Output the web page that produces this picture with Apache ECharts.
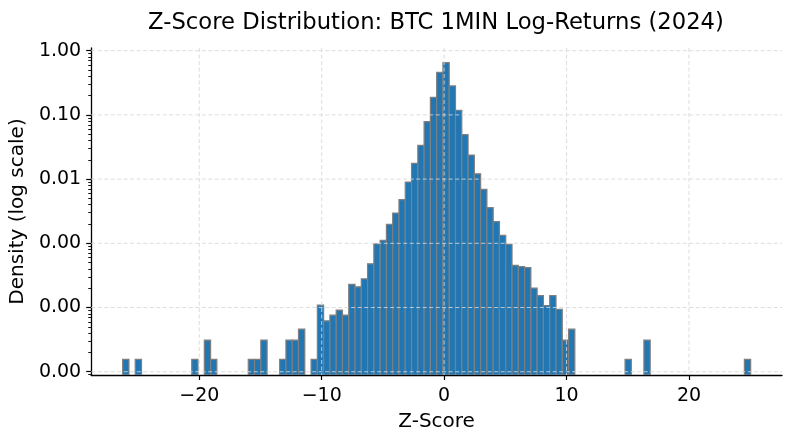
<!DOCTYPE html>
<html>
<head>
<meta charset="utf-8">
<script src="https://cdn.jsdelivr.net/npm/echarts@6/dist/echarts.min.js"></script>
<style>html,body{margin:0;padding:0;background:#fff;}#chart{width:793px;height:442px;}</style>
</head>
<body>
<div id="chart"></div>
<script>
// Histogram: 100 equal bins of Z-scores, density (log scale)
const binStart = -26.26;
const binWidth = 0.513;
const densities = [
  1.56e-5, 0, 1.56e-5, 0, 0, 0, 0, 0, 0, 0,
  0, 1.56e-5, 0, 3.1e-5, 1.56e-5, 0, 0, 0, 0, 0,
  1.56e-5, 1.56e-5, 3.1e-5, 0, 0, 1.56e-5, 3.1e-5, 3.1e-5, 4.6e-5, 0,
  1.56e-5, 1.09e-4, 6.2e-5, 7.6e-5, 9.1e-5, 7.6e-5, 2.3e-4, 2.1e-4, 2.8e-4, 4.8e-4,
  9.8e-4, 1.11e-3, 1.98e-3, 2.96e-3, 4.78e-3, 9.0e-3, 1.76e-2, 3.36e-2, 7.84e-2, 0.188,
  0.461, 0.650, 0.282, 0.118, 0.0492, 0.0237, 0.0121, 6.93e-3, 3.59e-3, 2.17e-3,
  1.33e-3, 9.64e-4, 4.54e-4, 4.32e-4, 4.17e-4, 2.01e-4, 1.53e-4, 1.07e-4, 1.53e-4, 9.4e-5,
  3.1e-5, 4.6e-5, 0, 0, 0, 0, 0, 0, 0, 0,
  1.56e-5, 0, 0, 3.1e-5, 0, 0, 0, 0, 0, 0,
  0, 0, 0, 0, 0, 0, 0, 0, 0, 1.56e-5
];
const xTicks = [-20, -10, 0, 10, 20];
const yTicks = [1, 0.1, 0.01, 0.001, 0.0001, 0.00001];
const yMinorMultipliers = [2, 3, 4, 5, 6, 7, 8, 9];
const yDecades = [-6, -5, -4, -3, -2, -1, 0];

const X_MIN = -28.83, X_MAX = 27.6, Y_MIN = 8.9e-6, Y_MAX = 1.1;
const FONT = 'DejaVu Sans';

const yMinorTicks = [];
yDecades.forEach(function (e) {
  yMinorMultipliers.forEach(function (m) {
    const v = m * Math.pow(10, e);
    if (v < Y_MAX && v > Y_MIN) yMinorTicks.push(v);
  });
});

const barData = [];
densities.forEach(function (d, i) {
  if (d > 0) barData.push([binStart + i * binWidth, binStart + (i + 1) * binWidth, d]);
});

const gridStyle = { stroke: 'rgba(215,215,215,0.85)', lineWidth: 1, lineDash: [4, 2.5] };

const chart = echarts.init(document.getElementById('chart'), null, { renderer: 'canvas' });

chart.setOption({
  animation: false,
  backgroundColor: '#ffffff',
  title: {
    text: 'Z-Score Distribution: BTC 1MIN Log-Returns (2024)',
    left: 431, top: 7, textAlign: 'center',
    textStyle: { fontFamily: FONT, fontSize: 22.7, fontWeight: 'normal', color: '#000' }
  },
  grid: { left: 91, right: 11, top: 48, bottom: 67, containLabel: false },
  xAxis: {
    type: 'value', min: X_MIN, max: X_MAX,
    name: 'Z-Score', nameLocation: 'middle', nameGap: 37,
    nameTextStyle: { fontFamily: FONT, fontSize: 20, color: '#000' },
    axisLine: { show: true, onZero: false, lineStyle: { color: '#000', width: 1.3 } },
    axisTick: { show: true, inside: false, length: 5, customValues: xTicks, lineStyle: { color: '#000', width: 1.2 } },
    axisLabel: { customValues: xTicks, margin: 12, fontFamily: FONT, fontSize: 19, color: '#000',
      formatter: function (v) { return v < 0 ? '\u2212' + Math.abs(v) : String(v); } },
    splitLine: { show: false }
  },
  yAxis: [{
    type: 'log', min: Y_MIN, max: Y_MAX, logBase: 10, position: 'left', offset: 0,
    name: 'Density (log scale)', nameLocation: 'middle', nameGap: 60, nameRotate: 90,
    nameTextStyle: { fontFamily: FONT, fontSize: 20, color: '#000' },
    axisLine: { show: true, onZero: false, lineStyle: { color: '#000', width: 1.3 } },
    axisTick: { show: true, inside: false, length: 5, customValues: yTicks, lineStyle: { color: '#000', width: 1.2 } },
    axisLabel: { customValues: yTicks, margin: 10, fontFamily: FONT, fontSize: 19, color: '#000',
      formatter: function (v) { return Number(v).toFixed(2); } },
    splitLine: { show: false }
  }, {
    type: 'log', min: Y_MIN, max: Y_MAX, logBase: 10, position: 'left', offset: 0,
    axisLine: { show: false, onZero: false },
    axisTick: { show: true, inside: false, length: 3, customValues: yMinorTicks, lineStyle: { color: '#000', width: 0.9 } },
    axisLabel: { show: false, customValues: yMinorTicks },
    splitLine: { show: false }
  }],
  series: [{
    type: 'custom',
    clip: true,
    z: 2,
    data: barData,
    encode: { x: [0, 1], y: 2 },
    renderItem: function (params, api) {
      const p0 = api.coord([api.value(0), api.value(2)]);
      const p1 = api.coord([api.value(1), Y_MIN]);
      return {
        type: 'rect',
        shape: { x: p0[0], y: p0[1], width: p1[0] - p0[0], height: p1[1] - p0[1] },
        style: { fill: '#2077b4', stroke: '#7f7f7f', lineWidth: 1.2 }
      };
    }
  }, {
    type: 'custom',
    z: 5,
    silent: true,
    data: xTicks.map(function (v) { return [v, Y_MIN]; }),
    encode: { x: 0, y: 1 },
    renderItem: function (params, api) {
      const p = api.coord([api.value(0), Y_MIN]);
      const cs = params.coordSys;
      return { type: 'line', shape: { x1: p[0], y1: cs.y, x2: p[0], y2: cs.y + cs.height }, style: gridStyle };
    }
  }, {
    type: 'custom',
    z: 5,
    silent: true,
    data: yTicks.map(function (v) { return [X_MIN, v]; }),
    encode: { x: 0, y: 1 },
    renderItem: function (params, api) {
      const p = api.coord([X_MIN, api.value(1)]);
      const cs = params.coordSys;
      return { type: 'line', shape: { x1: cs.x, y1: p[1], x2: cs.x + cs.width, y2: p[1] }, style: gridStyle };
    }
  }]
});
</script>
</body>
</html>
